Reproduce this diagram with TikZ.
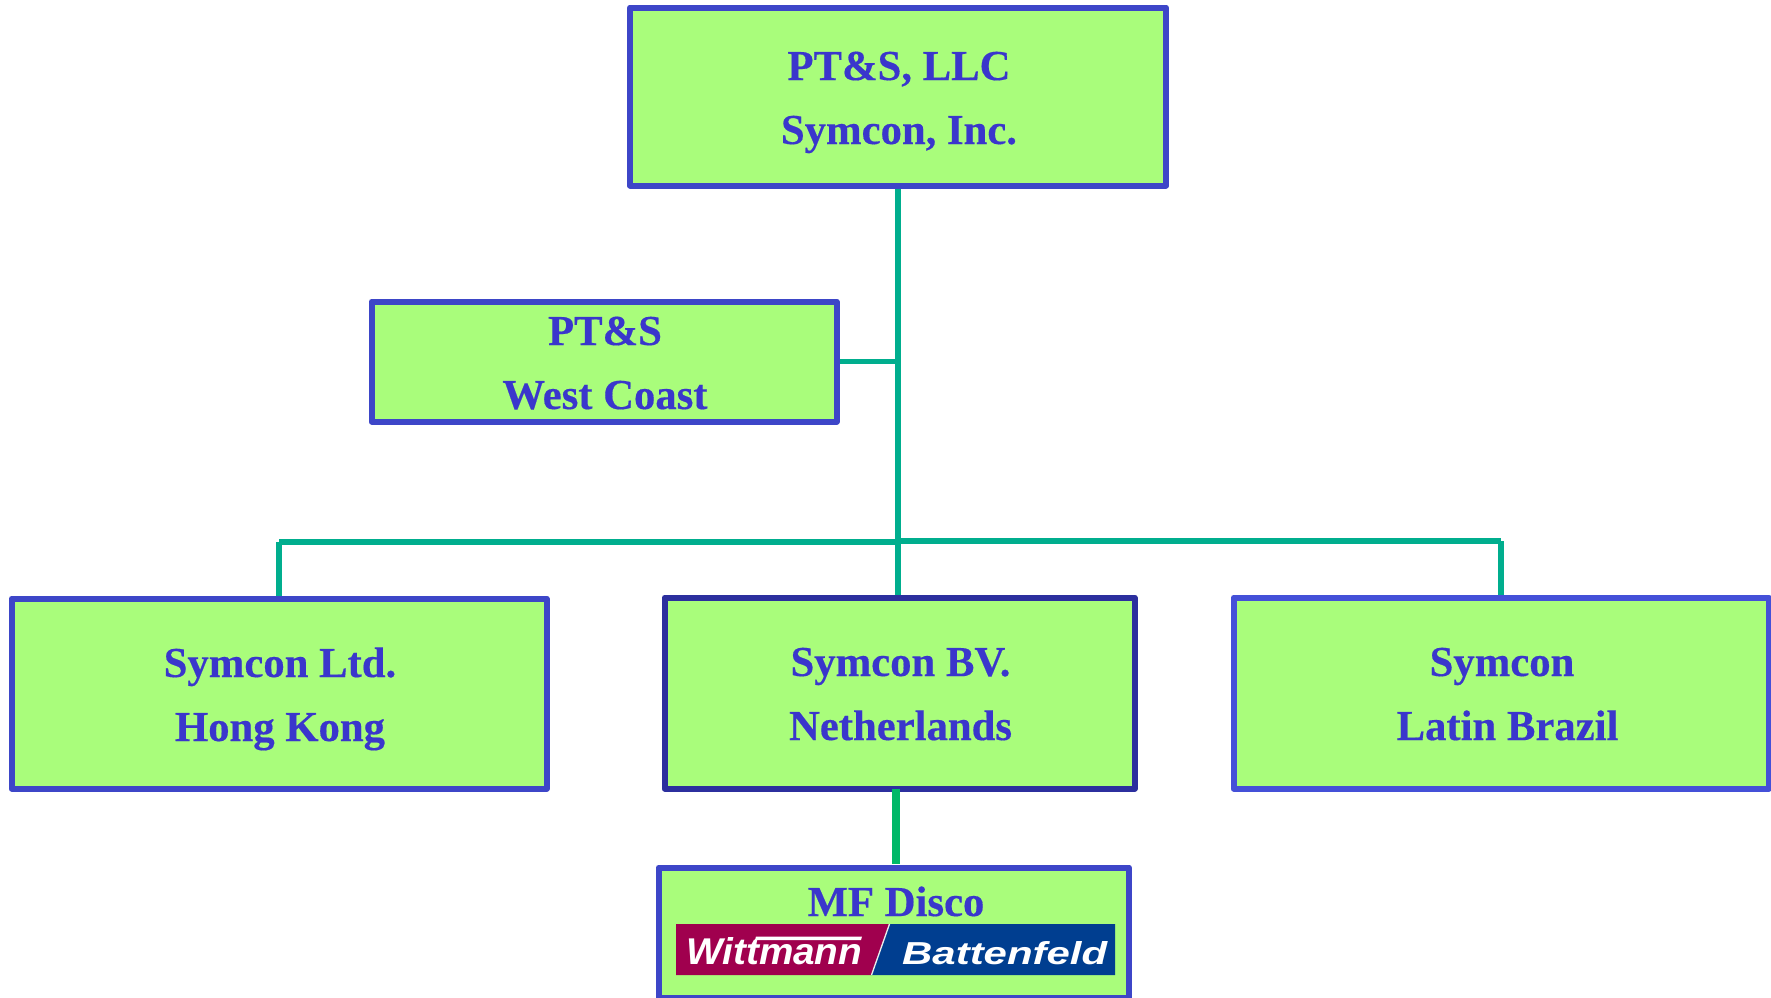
\documentclass[tikz,border=0pt]{standalone}
\usepackage{fontspec}
\setmainfont[BoldFeatures={FakeBold=0.35}]{Liberation Serif}
\newfontfamily\logofont[BoldFeatures={FakeBold=0.6}]{Liberation Sans}
\definecolor{boxfill}{HTML}{A9FD7B}
\definecolor{boxedge}{HTML}{3D46C8}
\definecolor{boxdark}{HTML}{2C2F9E}
\definecolor{boxlight}{HTML}{4450D8}
\definecolor{boxtext}{HTML}{3A36CC}
\definecolor{linkteal}{HTML}{00AE8E}
\definecolor{linkgreen}{HTML}{00B868}
\definecolor{logored}{HTML}{A0004E}
\definecolor{logoblue}{HTML}{003E90}
\newcommand{\twolines}[3]{\raisebox{#1}[0pt][0pt]{\hspace*{2pt}\begin{tabular}[t]{@{}c@{}}#2\\#3\end{tabular}}}
\newcommand{\logotext}[3]{\resizebox{#1}{#2}{\logofont\bfseries\itshape #3}}
\tikzset{
  orgbox/.style={draw=boxedge,fill=boxfill,line width=6pt,rectangle,inner sep=0pt,outer sep=0pt,line join=round,
    text=boxtext,font=\fontsize{42.7}{64}\selectfont\bfseries},
  link/.style={draw=linkteal,line width=5.6pt},
  bus/.style={draw=linkteal,line width=6pt,line cap=square},
  logoword/.style={inner sep=0pt,text=white}
}
\begin{document}
\begin{tikzpicture}[x=1pt,y=-1pt]
\useasboundingbox (0,0) rectangle (1771,997);
\clip (0,0) rectangle (1771,997);
\node[orgbox,minimum width=536pt,minimum height=178pt] (top) at (898,96.5) {\twolines{16.5pt}{PT\&S, LLC}{Symcon, Inc.}};
\node[orgbox,minimum width=465pt,minimum height=120pt] (west) at (604,361.5) {\twolines{16.5pt}{PT\&S}{West Coast}};
\node[orgbox,minimum width=535pt,minimum height=190pt] (hk) at (279,693.5) {\twolines{16.5pt}{Symcon Ltd.}{Hong Kong}};
\node[orgbox,draw=boxdark,minimum width=470pt,minimum height=191pt] (bv) at (899.5,693) {\twolines{17pt}{Symcon BV.}{Netherlands}};
\node[orgbox,draw=boxlight,minimum width=535pt,minimum height=191pt] (latin) at (1501,693) {\twolines{17pt}{Symcon}{\hspace*{11pt}Latin Brazil}};
\node[orgbox,minimum width=470.5pt,minimum height=130.5pt] (mf) at (893.75,932.75) {\twolines{16.75pt}{\hspace*{2.5pt}MF Disco}{}};
% logo
\fill[logoblue] (889,924) -- (1115,924) -- (1115,975) -- (871,975) -- cycle;
\fill[logored] (676,924) -- (889,924) -- (871,975) -- (676,975) -- cycle;
\draw[white!85!gray,line width=1.3pt] (889.5,924) -- (871.5,975);
\node[logoword,anchor=base west] (witt) at (686,964) {\logotext{176pt}{27pt}{Wittmann}};
\node[logoword,anchor=base west] (batt) at (902,964) {\logotext{205pt}{23pt}{Battenfeld}};
\fill[white] (756,936.5) -- (862,936.5) -- (861,940) -- (755,940) -- cycle;
% connectors
\coordinate (trunk) at (top.south);
\coordinate (busjoin) at (898,542);
\coordinate (busright) at (898,541);
\draw[link,shorten <=3pt] (top.south) -- (busjoin);
\draw[link,shorten <=3pt] (west.east) -- (west.east -| trunk);
\draw[bus] (busjoin) -- (busjoin -| hk.north);
\draw[bus] (busright) -- (busright -| latin.north);
\draw[link,shorten <=3pt] (hk.north) -- (hk.north |- busjoin);
\draw[link,shorten <=3pt] (latin.north) -- (latin.north |- busright);
\draw[link,shorten <=3pt] (bv.north -| trunk) -- (busjoin);
\coordinate (mfdrop) at (896,0);
\draw[draw=linkgreen,line width=7.5pt,shorten >=3.5pt] (bv.south -| mfdrop) -- (mf.north -| mfdrop);
\end{tikzpicture}
\end{document}
